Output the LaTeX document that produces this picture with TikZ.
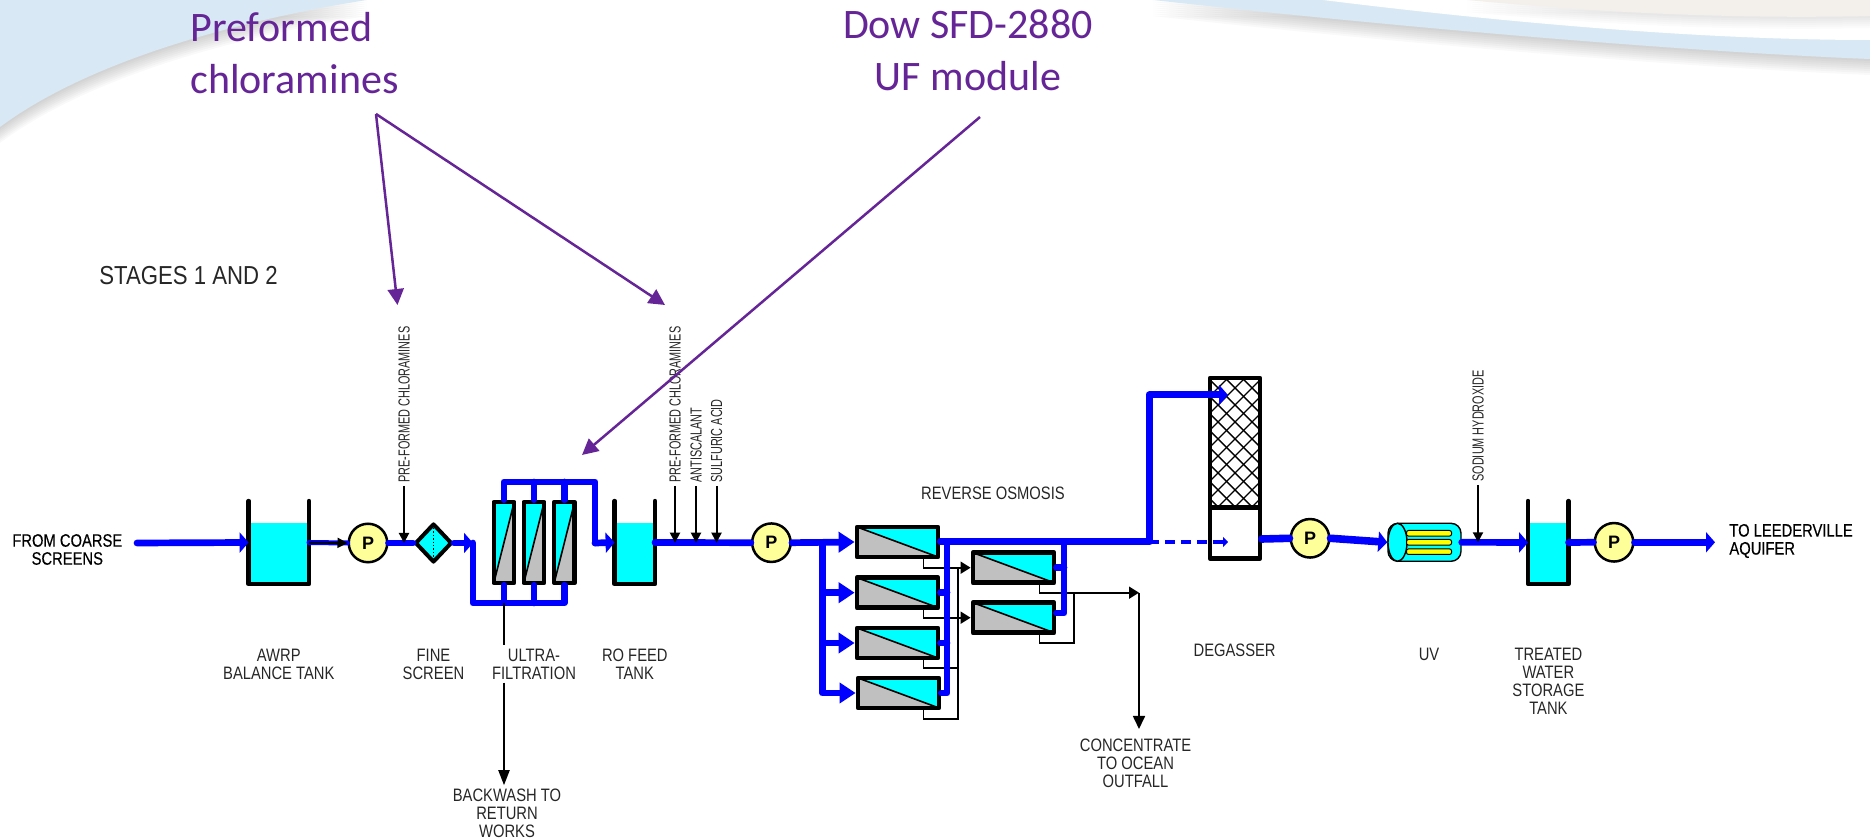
\documentclass[tikz,border=0pt]{standalone}
\usepackage{fontspec}
\usepackage{xcolor}
\usetikzlibrary{arrows.meta,calc,shapes.geometric}
\setmainfont{Liberation Sans}
\newfontfamily\narrowfont{Liberation Sans}[FakeStretch=0.82]
\newfontfamily\darknarrow{Liberation Sans}[FakeStretch=0.82,FakeBold=0.35]
\newfontfamily\vertnarrow{Liberation Sans}[FakeStretch=0.68]
\newfontfamily\stagenarrow{Liberation Sans}[FakeStretch=0.853]
\newfontfamily\notefont{Carlito}
\definecolor{pipeblue}{HTML}{0000FF}
\definecolor{tankcyan}{HTML}{00FFFF}
\definecolor{modgrey}{HTML}{C0C0C0}
\definecolor{pumpyellow}{HTML}{FFFF99}
\definecolor{lampyellow}{HTML}{FFFF00}
\definecolor{notepurple}{HTML}{652596}
\definecolor{labelgrey}{HTML}{262626}
\definecolor{skyband}{HTML}{D8E9F5}
\definecolor{creamband}{HTML}{F3F0EC}
\newcommand\swooshleft{(0,0) -- (367,0) .. controls (240,20) and (90,60) .. (0,127) -- cycle}
\newcommand\swooshband{(1153,0) .. controls (1350,22) and (1650,50) .. (1870,59) -- (1870,0) -- cycle}
\newcommand\swooshgap{(1323,0) .. controls (1500,22) and (1700,40) .. (1870,40) -- (1870,0) -- cycle}
\newcommand\swooshcream{(1467,0) .. controls (1550,8) and (1700,20) .. (1870,16) -- (1870,0) -- cycle}
\tikzset{
  pipe/.style={pipeblue, line width=3.35pt, line cap=round, line join=round},
  flow/.style={pipe, -{Triangle[length=4.5pt,width=10pt]}},
  feed/.style={pipe, -{Triangle[length=8pt,width=10pt]}},
  chemline/.style={black, line width=1pt},
  chem/.style={chemline, -{Triangle[length=5pt,width=5pt]}},
  conc/.style={black, line width=.85pt},
  concin/.style={conc, -{Triangle[length=5pt,width=6pt]}},
  note/.style={notepurple, line width=1.25pt, -{Triangle[length=8pt,width=8pt]}},
  lbl/.style={font=\narrowfont\fontsize{9}{9}\selectfont, align=center, inner sep=1.5pt, text=labelgrey},
  darklbl/.style={lbl, font=\darknarrow\fontsize{9}{9}\selectfont, text=black},
  chemlbl/.style={font=\vertnarrow\fontsize{8}{8}\selectfont, rotate=90, anchor=west, inner sep=1.5pt, text=labelgrey},
  notelbl/.style={font=\notefont\fontsize{21}{26}\selectfont, text=notepurple, inner sep=0pt},
  tankbox/.style={inner sep=0pt, outer sep=0pt, minimum height=41.5pt},
  tankwall/.style={black, line width=2.2pt, line cap=round, line join=round},
  pump/.style={circle, draw=black, fill=pumpyellow, line width=1.25pt, minimum size=19.25pt, inner sep=0pt, font=\fontsize{9}{9}\selectfont\bfseries},
  fscreen/.style={diamond, draw=black, fill=tankcyan, line width=2pt, line join=round, minimum width=18.5pt, minimum height=19.5pt, inner sep=0pt},
  romodule/.style={draw=black, fill=modgrey, line width=2.4pt, line join=round, inner sep=0pt, minimum width=40.5pt, minimum height=15pt,
    path picture={\fill[tankcyan] (path picture bounding box.north west) -- (path picture bounding box.north east) -- (path picture bounding box.south east) -- cycle;
      \draw[black, line width=.8pt] (path picture bounding box.north west) -- (path picture bounding box.south east);}},
  ufmodule/.style={draw=black, fill=modgrey, line width=2.2pt, line join=round, inner sep=0pt, minimum width=10.2pt, minimum height=40.5pt,
    path picture={\fill[tankcyan] (path picture bounding box.north west) -- (path picture bounding box.north east) -- (path picture bounding box.south west) -- cycle;
      \draw[black, line width=.8pt] (path picture bounding box.south west) -- (path picture bounding box.north east);}},
  degasbox/.style={draw=black, line width=2.2pt, line join=round, inner sep=0pt, minimum width=25pt},
  uvbody/.style={draw=black, fill=tankcyan, line width=.7pt, rounded corners=5pt, inner sep=0pt, minimum width=36.5pt, minimum height=19pt},
  uvcap/.style={ellipse, draw=black, fill=tankcyan, line width=.7pt, inner sep=0pt, minimum width=9.5pt, minimum height=19pt},
  uvlamp/.style={draw=black, fill=lampyellow, line width=.5pt, rounded corners=1pt, inner sep=0pt, minimum width=22.5pt, minimum height=2.8pt},
}
\begin{document}
\begin{tikzpicture}[x=0.5pt, y=-0.5pt]
  \useasboundingbox (0,0) rectangle (1870,838);

  \foreach \d in {2,4,...,16} {
    \fill[black, opacity=.022, shift={(0,\d)}] \swooshleft;
    \fill[black, opacity=.022, shift={(0,\d)}] \swooshband;
  }
  \fill[skyband] \swooshleft;
  \fill[skyband] \swooshband;
  \fill[white] \swooshgap;
  \foreach \d in {2,4,...,12} {
    \fill[black, opacity=.014, shift={(0,\d)}] \swooshcream;
  }
  \fill[creamband] \swooshcream;

  \foreach \tk/\xc/\tw in {tanka/278.8/30.2pt, tankb/634.8/20.2pt, tankc/1548.3/20.2pt} {
    \node[tankbox, minimum width=\tw] (\tk) at (\xc,542.5) {};
    \fill[tankcyan] (\tk.south west) rectangle ($(\tk.south east)+(0,-61)$);
    \draw[tankwall] (\tk.north west) |- (\tk.south east) -- (\tk.north east);
  }

  \node[pump] (pumpa) at (368,543) {P};
  \node[pump] (pumpb) at (771.4,542.7) {P};
  \node[pump] (pumpc) at (1310,538.3) {P};
  \node[pump] (pumpd) at (1614,542.3) {P};

  \node[fscreen] (screen) at (433.5,543) {};
  \draw[black, line width=.7pt, densely dotted] (433.5,528) -- (433.5,558);

  \node[ufmodule] (ufmoda) at (504,542.5) {};
  \node[ufmodule] (ufmodb) at (534,542.5) {};
  \node[ufmodule] (ufmodc) at (564.4,542.5) {};

  \foreach \tk/\yc in {romoda/542, romodb/592.7, romodc/643} {
    \node[romodule] (\tk) at (897.5,\yc) {};
  }
  \node[romodule] (romodd) at (898.5,693) {};
  \node[romodule] (romode) at (1013.5,567.7) {};
  \node[romodule] (romodf) at (1013.5,617.7) {};

  \begin{scope}
    \clip (1210,378) rectangle (1260,507.7);
    \foreach \y in {329,346,...,507} {
      \draw[black, line width=.7pt] (1210,\y) -- (1260,\y+50);
      \draw[black, line width=.7pt] (1260,\y) -- (1210,\y+50);
    }
  \end{scope}
  \node[degasbox, minimum height=64.85pt] (packing) at (1235,442.85) {};
  \node[degasbox, minimum height=25.5pt] (sump) at (1235,533.2) {};

  \node[uvbody] (uv) at (1424.5,542.3) {};
  \node[uvcap] (uvend) at (1397.5,542.3) {};
  \foreach \tk/\yc in {lampa/533.3, lampb/542.3, lampc/551.7} {
    \node[uvlamp] (\tk) at (1429,\yc) {};
  }

  \coordinate (inlet) at (137,543);
  \coordinate (ufin) at (473,543);
  \coordinate (ufbot) at (473,603);
  \coordinate (uftop) at (504,482);
  \coordinate (ufback) at (595,543);
  \coordinate (rofeed) at (822.4,543);
  \coordinate (permtopa) at (947,542);
  \coordinate (permtopb) at (1064,542);
  \coordinate (rojoin) at (1149,542);
  \coordinate (degastop) at (1228,395);
  \coordinate (degaslow) at (1228,542);
  \coordinate (degasout) at (1262,539);
  \coordinate (concbus) at (958,567.7);
  \coordinate (concbusb) at (958,617.7);
  \coordinate (concbusc) at (958,668);
  \coordinate (concbusd) at (958,719);
  \coordinate (concout) at (1139,592.7);
  \coordinate (concend) at (1139,729);
  \coordinate (concjoin) at (1074,592.7);
  \coordinate (concrise) at (1074,643);
  \coordinate (outlet) at (1715,542.3);
  \coordinate (notechlor) at (376,114);
  \coordinate (notechlora) at (397.5,305);
  \coordinate (notechlorb) at (665,305);
  \coordinate (notemod) at (980,117);
  \coordinate (notemodtip) at (582,455);

  \draw[conc] ($(romoda.south east)+(-17,0)$) |- (concbus);
  \draw[concin] (concbus) -- (romode.west);
  \draw[conc] ($(romodb.south east)+(-17,0)$) |- (concbusb);
  \draw[concin] (concbusb) -- (romodf.west);
  \draw[conc] ($(romodc.south east)+(-17,0)$) |- (concbusc);
  \draw[conc] ($(romodd.south east)+(-18,0)$) |- (concbusd) -- (concbus);
  \draw[concin] ($(romode.south east)+(-17,0)$) |- (concout);
  \draw[conc] ($(romodf.south east)+(-17,0)$) |- (concrise) -- (concjoin);
  \draw[conc, -{Triangle[length=6.5pt,width=6pt]}] (concout) -- (concend);

  \draw[flow] (inlet) -- (tanka.west);
  \draw[pipe, line width=2.5pt] (tanka.east) -- (pumpa.west);
  \draw[chem] (tanka.east) -- (pumpa.west);
  \draw[pipe] (pumpa.east) -- (screen.west);
  \draw[flow] (screen.east) -- (ufin);
  \draw[pipe] (ufin) -- (ufbot) -| (ufmodc.south);
  \draw[pipe] (ufmoda.south) -- (ufmoda.south |- ufbot);
  \draw[pipe] (ufmodb.south) -- (ufmodb.south |- ufbot);
  \draw[pipe] (ufmoda.north) -- (uftop) -| (ufback);
  \draw[pipe] (ufmodb.north) -- (ufmodb.north |- uftop);
  \draw[pipe] (ufmodc.north) -- (ufmodc.north |- uftop);
  \draw[flow] (ufback) -- (tankb.west);
  \draw[pipe] (tankb.east) -- (pumpb.west);
  \draw[feed] (pumpb.east) -- (romoda.west);
  \draw[feed] (rofeed) |- (romodb.west);
  \draw[feed] (rofeed) |- (romodc.west);
  \draw[feed] (rofeed) |- (romodd.west);
  \draw[pipe] (permtopa) |- (romodd.east);
  \draw[pipe] (romodb.east) -- (romodb.east -| permtopa);
  \draw[pipe] (romodc.east) -- (romodc.east -| permtopa);
  \draw[pipe] (permtopb) |- ($(romodf.east)+(0,-4.7)$);
  \draw[pipe] (romode.east) -- (romode.east -| permtopb);
  \draw[flow, line width=3.5pt] (romoda.east) -- (rojoin) |- (degastop);
  \draw[pipeblue, line width=1.6pt, dash pattern=on 5pt off 3pt, -{Triangle[length=2.5pt,width=5pt]}] (rojoin) -- (degaslow);
  \draw[pipe, line width=3.8pt] (degasout) -- (pumpc.west);
  \draw[flow, line width=3.8pt] (pumpc.east) -- (uvend.west);
  \draw[flow] (uv.east) -- (tankc.west);
  \draw[pipe] (tankc.east) -- (pumpd.west);
  \draw[flow] (pumpd.east) -- (outlet);

  \node[chemlbl] (chemscreen) at (404,486) {PRE-FORMED CHLORAMINES};
  \node[chemlbl] (chemchlor) at (675,486) {PRE-FORMED CHLORAMINES};
  \node[chemlbl] (chemanti) at (696,486) {ANTISCALANT};
  \node[chemlbl] (chemacid) at (716.5,486) {SULFURIC ACID};
  \node[chemlbl] (chemsoda) at (1478,485) {SODIUM HYDROXIDE};
  \draw[chem] (chemscreen.west) -- (chemscreen.west |- pumpa.east);
  \draw[chem] (chemchlor.west) -- (chemchlor.west |- pumpb.west);
  \draw[chem] (chemanti.west) -- (chemanti.west |- pumpb.west);
  \draw[chem] (chemacid.west) -- (chemacid.west |- pumpb.west);
  \draw[chem] (chemsoda.west) -- (chemsoda.west |- uv.east);

  \node[darklbl] (fromscreens) at (67.3,549.5) {FROM COARSE\\SCREENS};
  \node[darklbl, anchor=west, align=left] (toaquifer) at (1726,541) {TO LEEDERVILLE\\AQUIFER};
  \node[lbl] (lblbalance) at (278.8,664) {AWRP\\BALANCE TANK};
  \node[lbl] (lblscreen) at (433.5,664) {FINE\\SCREEN};
  \node[lbl] (lblultra) at (534,664) {ULTRA-\\FILTRATION};
  \node[lbl] (lblfeed) at (634.8,664) {RO FEED\\TANK};
  \node[lbl] (lblbackwash) at (507,813) {BACKWASH TO\\RETURN\\WORKS};
  \node[lbl] (lblro) at (993,493.7) {REVERSE OSMOSIS};
  \node[lbl] (lblconc) at (1135.5,763) {CONCENTRATE\\TO OCEAN\\OUTFALL};
  \node[lbl] (lbldegas) at (1234.6,650.7) {DEGASSER};
  \node[lbl] (lbluv) at (1429,654.7) {UV};
  \node[lbl] (lbltreated) at (1548.4,681.7) {TREATED\\WATER\\STORAGE\\TANK};
  \node[font=\stagenarrow\fontsize{13}{13}\selectfont, text=labelgrey, inner sep=0pt, anchor=west] (lblstages) at (99,275.5) {STAGES 1 AND 2};

  \draw[chemline] (ufmoda.south |- ufbot) -- (ufmoda.south |- lblultra.north);
  \draw[chemline, -{Triangle[length=7.5pt,width=5.5pt]}] (ufmoda.south |- lblultra.south) -- (ufmoda.south |- lblbackwash.north);

  \node[notelbl, anchor=west, align=left] (notepre) at (190,53) {Preformed\\chloramines};
  \node[notelbl, align=center] (notedow) at (968,50) {Dow SFD-2880\\UF module};
  \draw[note] (notechlor) -- (notechlora);
  \draw[note] (notechlor) -- (notechlorb);
  \draw[note] (notemod) -- (notemodtip);
\end{tikzpicture}
\end{document}
